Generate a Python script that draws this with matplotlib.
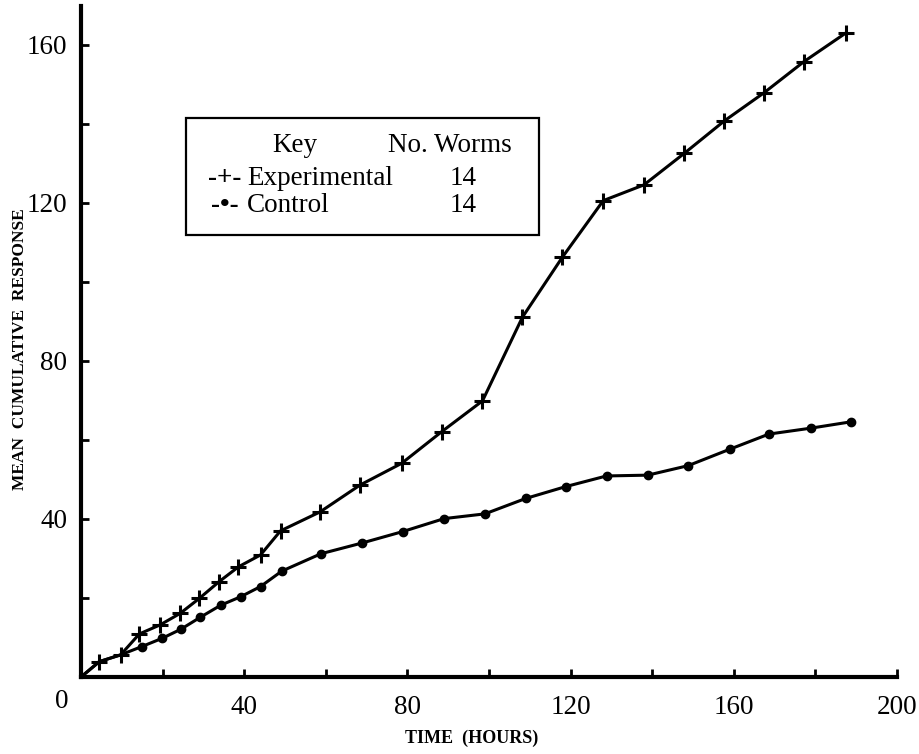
import matplotlib
matplotlib.use("Agg")
import matplotlib.pyplot as plt
from matplotlib.patches import Rectangle
from matplotlib.ticker import FixedLocator

plt.rcParams['font.family'] = ['Liberation Serif', 'DejaVu Serif']

# Data (time in hours, mean cumulative response)
exp_x = [0, 4.5, 9.7, 14.3, 19.4, 24.3, 29.0, 33.8, 38.6, 44.0, 48.9, 58.6, 68.4,
         78.6, 88.4, 98.4, 108.2, 118.0, 128.0, 138.0, 147.9, 157.7, 167.4, 177.2, 187.4]
exp_y = [0, 3.9, 5.6, 10.9, 13.2, 16.1, 19.9, 24.1, 27.9, 30.9, 37.0, 41.8, 48.6,
         54.1, 62.1, 69.9, 91.1, 106.3, 120.6, 124.6, 132.6, 140.8, 147.9, 155.8, 163.0]

ctl_x = [0, 4.5, 9.7, 14.9, 19.9, 24.5, 29.2, 34.3, 39.1, 44.0, 49.2, 58.8, 68.8,
         78.8, 89.0, 99.0, 109.0, 118.8, 128.8, 138.9, 148.8, 159.1, 168.6, 178.9, 188.7]
ctl_y = [0, 3.9, 5.6, 7.7, 9.8, 12.1, 15.1, 18.2, 20.3, 22.9, 26.8, 31.2, 33.9,
         36.8, 40.1, 41.3, 45.2, 48.2, 50.9, 51.1, 53.5, 57.7, 61.5, 63.0, 64.6]

x_major = [40, 80, 120, 160, 200]
x_minor = [20, 60, 100, 140, 180]
y_major = [40, 80, 120, 160]
y_minor = [20, 60, 100, 140]

key_names = ["Experimental", "Control"]
key_counts = ["14", "14"]

W, H = 919, 754
fig = plt.figure(figsize=(W / 100, H / 100), dpi=100)
ax = fig.add_axes([81 / W, 77 / H, 816 / W, 671.5 / H])

ax.plot(exp_x, exp_y, color='black', lw=2.2, marker='+', ms=11, mew=2.2,
        markevery=slice(1, None), solid_joinstyle='round')
ax.plot(ctl_x, ctl_y, color='black', lw=2.2, marker='o', ms=6,
        markevery=slice(3, None), solid_joinstyle='round')

ax.set_xlim(0, 200)
ax.set_ylim(0, 170)
for s in ['top', 'right']:
    ax.spines[s].set_visible(False)
for s in ['left', 'bottom']:
    ax.spines[s].set_linewidth(3.0)

ax.xaxis.set_major_locator(FixedLocator(x_major))
ax.xaxis.set_minor_locator(FixedLocator(x_minor))
ax.yaxis.set_major_locator(FixedLocator(y_major))
ax.yaxis.set_minor_locator(FixedLocator(y_minor))
ax.set_xticklabels([str(v) for v in x_major])
ax.set_yticklabels([str(v) for v in y_major])
ax.tick_params(which='both', direction='in', length=6, width=2)
ax.tick_params(axis='x', which='major', labelsize=19.5, pad=13)
ax.tick_params(axis='y', which='major', labelsize=19.5, pad=10)

# origin label
ax.annotate("0", xy=(0, 0), xytext=(-14, -18), textcoords='offset points',
            ha='center', va='center', fontsize=19.5, annotation_clip=False)

fig.text(20 / W, 1 - 349 / H, "MEAN  CUMULATIVE  RESPONSE", rotation=90,
         ha='center', va='center', fontsize=12.5, fontweight='bold')
fig.text(472 / W, 1 - 738 / H, "TIME  (HOURS)", ha='center', va='center',
         fontsize=13, fontweight='bold')

# Key box
fig.add_artist(Rectangle((186 / W, 1 - 235 / H), (539 - 186) / W, (235 - 118) / H,
                         transform=fig.transFigure, fill=False, lw=1.6,
                         edgecolor='black'))
fs = 19.5
fig.text(295 / W, 1 - 152 / H, "Key", ha='center', va='baseline', fontsize=fs)
fig.text(388 / W, 1 - 152 / H, "No. Worms", ha='left', va='baseline', fontsize=fs)
symbols = ["-+-", "-\u2022-"]
baselines = [185, 212]
for sym, name, cnt, b in zip(symbols, key_names, key_counts, baselines):
    fig.text(225 / W, 1 - b / H, sym, ha='center', va='baseline', fontsize=fs,
             fontweight='bold')
    fig.text(247 / W, 1 - b / H, name, ha='left', va='baseline', fontsize=fs)
    fig.text(450 / W, 1 - b / H, cnt, ha='left', va='baseline', fontsize=fs)

fig.savefig("out.png", dpi=100)
